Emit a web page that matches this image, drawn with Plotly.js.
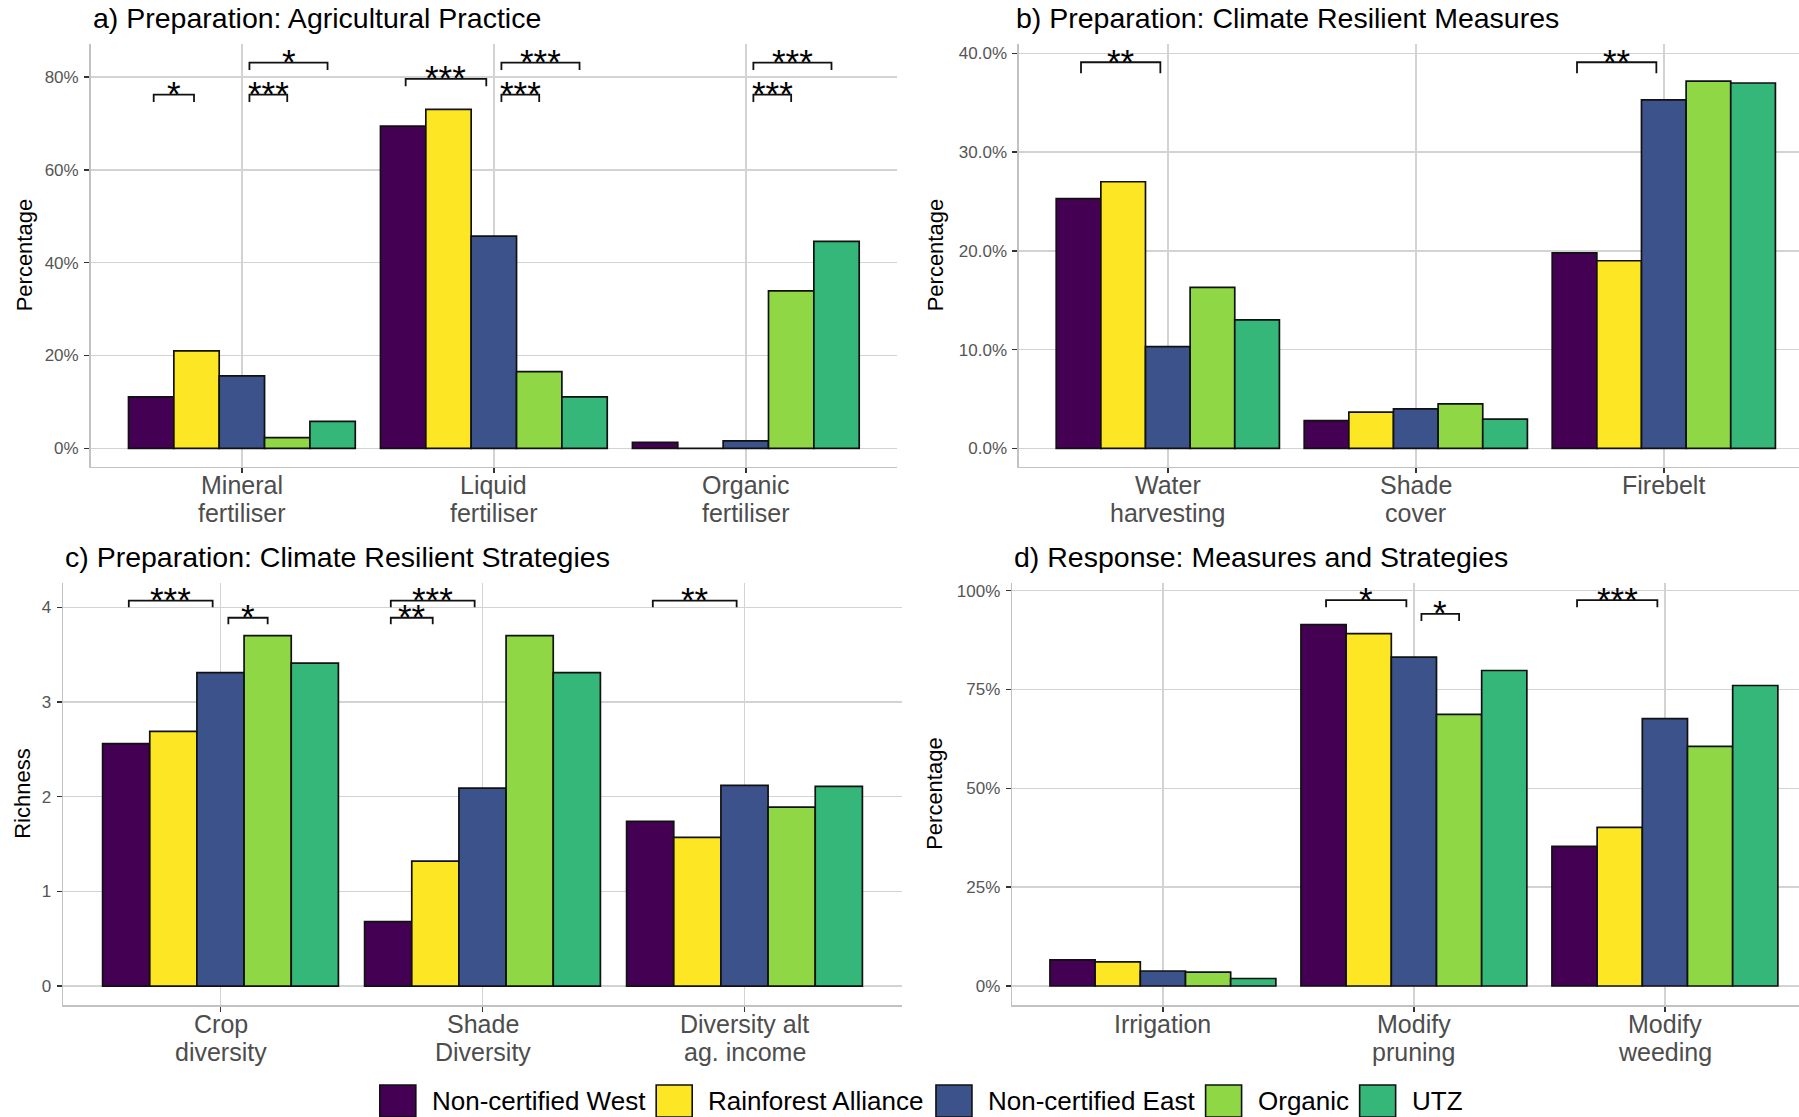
<!DOCTYPE html>
<html><head><meta charset="utf-8">
<script src="https://cdn.plot.ly/plotly-3.0.1.min.js"></script>
<style>html,body{margin:0;padding:0;background:#fff;} #chart{width:1799px;height:1117px;}</style>
</head><body><div id="chart"></div>
<script>
// ---------- DATA ----------
const seriesNames  = ['Non-certified West','Rainforest Alliance','Non-certified East','Organic','UTZ'];
const seriesColors = ['#440154','#FDE725','#3B528B','#8FD744','#35B779'];

const titleA = 'a) Preparation: Agricultural Practice';
const titleB = 'b) Preparation: Climate Resilient Measures';
const titleC = 'c) Preparation: Climate Resilient Strategies';
const titleD = 'd) Response: Measures and Strategies';

const categoriesA = ['Mineral<br>fertiliser','Liquid<br>fertiliser','Organic<br>fertiliser'];
const categoriesB = ['Water<br>harvesting','Shade<br>cover','Firebelt'];
const categoriesC = ['Crop<br>diversity','Shade<br>Diversity','Diversity alt<br>ag. income'];
const categoriesD = ['Irrigation','Modify<br>pruning','Modify<br>weeding'];

// rows = series (same order as seriesNames), columns = categories
const valuesA = [[11.1,69.4,1.3],[21.0,73.0,0],[15.6,45.7,1.6],[2.3,16.5,33.9],[5.8,11.1,44.6]];      // %
const valuesB = [[25.3,2.8,19.8],[27.0,3.66,19.0],[10.3,4.0,35.3],[16.3,4.5,37.2],[13.0,2.96,37.0]];  // %
const valuesC = [[2.56,0.68,1.74],[2.69,1.32,1.57],[3.31,2.09,2.12],[3.70,3.70,1.89],[3.41,3.31,2.11]]; // richness
const valuesD = [[6.6,91.4,35.3],[6.1,89.1,40.1],[3.8,83.2,67.6],[3.5,68.7,60.6],[1.9,79.8,76.0]];    // %

const yTicksA = [0,20,40,60,80];
const yTicksB = [0,10,20,30,40];
const yTicksC = [0,1,2,3,4];
const yTicksD = [0,25,50,75,100];
const yLabelsA = ['0%','20%','40%','60%','80%'];
const yLabelsB = ['0.0%','10.0%','20.0%','30.0%','40.0%'];
const yLabelsC = ['0','1','2','3','4'];
const yLabelsD = ['0%','25%','50%','75%','100%'];

// significance brackets: [category index, start offset, end offset, level, label]
const bracketsA = [[0,-0.35,-0.19,76.2,'*'],[0,0.03,0.18,76.2,'***'],[0,0.03,0.34,83.1,'*'],
                   [1,-0.35,-0.03,79.6,'***'],[1,0.03,0.18,76.2,'***'],[1,0.03,0.34,83.1,'***'],
                   [2,0.03,0.34,83.1,'***'],[2,0.03,0.18,76.2,'***']];
const bracketsB = [[0,-0.35,-0.03,39.1,'**'],[2,-0.35,-0.03,39.1,'**']];
const bracketsC = [[0,-0.35,-0.03,4.07,'***'],[0,0.03,0.18,3.89,'*'],
                   [1,-0.35,-0.03,4.07,'***'],[1,-0.35,-0.19,3.89,'**'],
                   [2,-0.35,-0.03,4.07,'**']];
const bracketsD = [[1,-0.35,-0.03,97.6,'*'],[1,0.03,0.18,94.1,'*'],[2,-0.35,-0.03,97.6,'***']];

// ---------- LAYOUT / STYLE ----------
const W = 1799, H = 1117;
const FONT = '"Liberation Sans", Arial, Helvetica, sans-serif';
const panels = [
  {title:titleA, cats:categoriesA, vals:valuesA, br:bracketsA, tip:1.6,  ytitle:'Percentage', ticks:yTicksA, labels:yLabelsA,
   px:[90.7,897], py:[44,466.7], xr:[-0.6,2.6],   yr:[-3.96,87.1], ytx:24, tdx:0},
  {title:titleB, cats:categoriesB, vals:valuesB, br:bracketsB, tip:1.1,  ytitle:'Percentage', ticks:yTicksB, labels:yLabelsB,
   px:[1019,1799], py:[44,466.7], xr:[-0.6,-0.6+(1799-1019)/248], yr:[-1.86,40.95], ytx:935, tdx:-5},
  {title:titleC, cats:categoriesC, vals:valuesC, br:bracketsC, tip:0.07, ytitle:'Richness',   ticks:yTicksC, labels:yLabelsC,
   px:[63.3,901.7], py:[582.7,1005], xr:[-0.6,2.6], yr:[-0.2,4.26], ytx:23, tdx:0},
  {title:titleD, cats:categoriesD, vals:valuesD, br:bracketsD, tip:1.8,  ytitle:'Percentage', ticks:yTicksD, labels:yLabelsD,
   px:[1012.3,1799], py:[582.7,1005], xr:[-0.6,-0.6+(1799-1012.3)/251], yr:[-4.8,102.0], ytx:935, tdx:0}
];

const traces = [], annotations = [], shapes = [];
const layout = {
  width:W, height:H, margin:{l:0,r:0,t:0,b:0}, paper_bgcolor:'#fff', plot_bgcolor:'#fff',
  barmode:'group', bargap:0.1, bargroupgap:0, showlegend:false,
  font:{family:FONT, color:'#000'}
};

panels.forEach((p, i) => {
  const n = i + 1, xa = 'x' + (n === 1 ? '' : n), ya = 'y' + (n === 1 ? '' : n);
  const xIdx = p.cats.map((c, k) => k);
  p.vals.forEach((row, s) => {
    traces.push({type:'bar', name:seriesNames[s], x:xIdx, y:row, xaxis:xa, yaxis:ya,
      marker:{color:seriesColors[s], line:{color:'#111', width:1.7}}, hoverinfo:'name+y'});
  });
  // significance brackets
  const bx = [], by = [];
  p.br.forEach(b => {
    const x0 = b[0] + b[1], x1 = b[0] + b[2];
    bx.push(x0, x0, x1, x1, null); by.push(b[3]-p.tip, b[3], b[3], b[3]-p.tip, null);
    annotations.push({xref:xa, yref:ya, x:(x0+x1)/2, y:b[3], text:b[4], showarrow:false,
      yanchor:'middle', xanchor:'center', yshift:1, font:{family:FONT, size:35, color:'#000'}});
  });
  traces.push({type:'scatter', mode:'lines', x:bx, y:by, xaxis:xa, yaxis:ya, hoverinfo:'skip',
    line:{color:'#111', width:1.8}, cliponaxis:false});

  const axKey = 'xaxis' + (n === 1 ? '' : n), ayKey = 'yaxis' + (n === 1 ? '' : n);
  layout[axKey] = {domain:[p.px[0]/W, p.px[1]/W], range:p.xr, anchor:ya, tickmode:'array', tickvals:xIdx, ticktext:xIdx.map(()=>''),
    showgrid:true, gridcolor:'#d3d3d3', gridwidth:1.6, zeroline:false, showline:true, linecolor:'#c2c2c2', linewidth:1.6,
    ticks:'outside', ticklen:5, tickwidth:1.5, tickcolor:'#333', fixedrange:true};
  layout[ayKey] = {domain:[1-p.py[1]/H, 1-p.py[0]/H], range:p.yr, anchor:xa, tickmode:'array', tickvals:p.ticks, ticktext:p.labels,
    showgrid:true, gridcolor:'#d3d3d3', gridwidth:1.6, zeroline:false, showline:true, linecolor:'#c2c2c2', linewidth:1.6,
    ticks:'outside', ticklen:5, tickwidth:1.5, tickcolor:'#333', ticklabelstandoff:2,
    tickfont:{family:FONT, size:17, color:'#555'}, fixedrange:true};

  // panel title
  annotations.push({xref:'paper', yref:'paper', x:(p.px[0]+p.tdx)/W, y:1-(p.py[0]-26)/H, xanchor:'left', yanchor:'middle',
    text:p.title, showarrow:false, font:{family:FONT, size:28.5, color:'#000'}});
  // y-axis title
  annotations.push({xref:'paper', yref:'paper', x:p.ytx/W, y:1-((p.py[0]+p.py[1])/2)/H, xanchor:'center', yanchor:'middle',
    textangle:-90, text:p.ytitle, showarrow:false, font:{family:FONT, size:22, color:'#000'}});
  // category labels (two lines, tight line height)
  p.cats.forEach((c, k) => {
    c.split('<br>').forEach((line, li) => {
      annotations.push({xref:xa, yref:'paper', x:k, y:1-p.py[1]/H, yanchor:'middle', xanchor:'center',
        yshift:-(18.5 + li*28), text:line, showarrow:false, font:{family:FONT, size:25, color:'#4d4d4d'}});
    });
  });
});

// ---------- manual legend (large square keys) ----------
const ctx = document.createElement('canvas').getContext('2d');
ctx.font = '26px "Liberation Sans", Arial, sans-serif';
const keyW = 36, keyH = 32, keyGap = 14, itemGap = 13, legendCenterX = 920, legendCenterY = 1101;
const widths = seriesNames.map(s => ctx.measureText(s).width);
const totalW = widths.reduce((a, w) => a + keyW + keyGap + w, 0) + itemGap * (seriesNames.length - 1);
let cx = legendCenterX - totalW / 2;
seriesNames.forEach((s, i) => {
  shapes.push({type:'rect', xref:'paper', yref:'paper', x0:cx/W, x1:(cx+keyW)/W,
    y0:1-(legendCenterY+keyH/2)/H, y1:1-(legendCenterY-keyH/2)/H,
    fillcolor:seriesColors[i], line:{color:'#111', width:1.6}});
  annotations.push({xref:'paper', yref:'paper', x:(cx+keyW+keyGap)/W, y:1-legendCenterY/H, xanchor:'left', yanchor:'middle',
    text:s, showarrow:false, font:{family:FONT, size:26, color:'#000'}});
  cx += keyW + keyGap + widths[i] + itemGap;
});

layout.annotations = annotations;
layout.shapes = shapes;
Plotly.newPlot('chart', traces, layout, {displayModeBar:false, staticPlot:true});
</script></body></html>
